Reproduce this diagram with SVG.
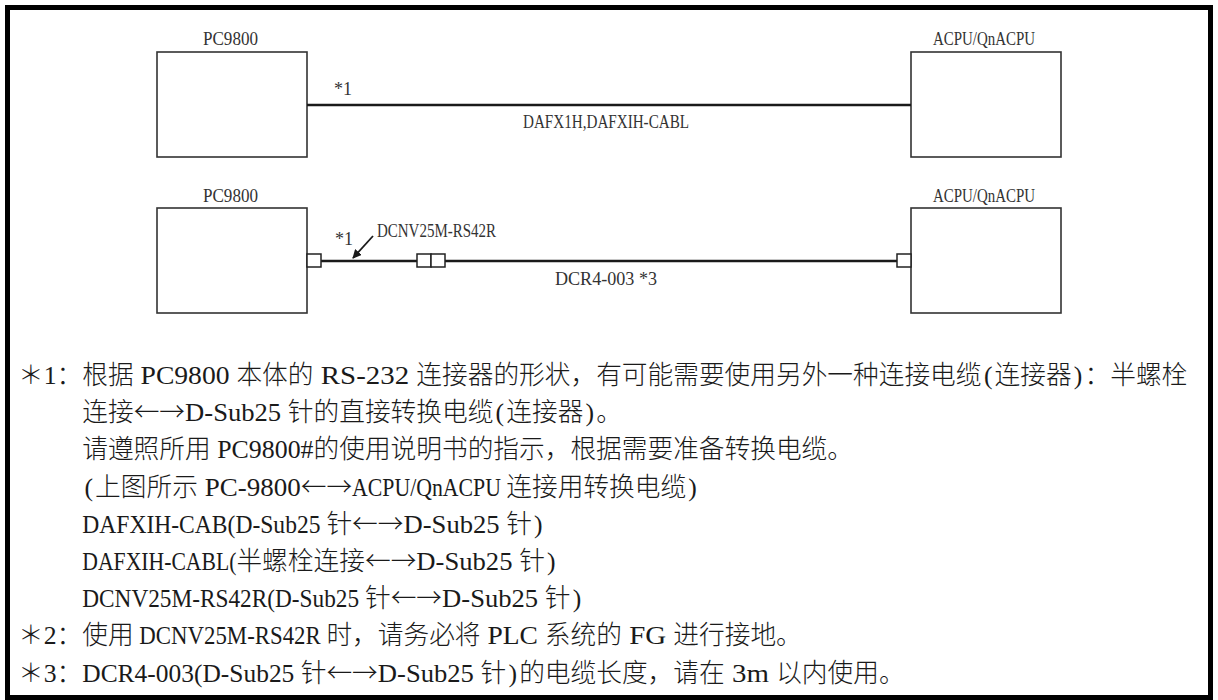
<svg xmlns="http://www.w3.org/2000/svg" width="1218" height="700" viewBox="0 0 1218 700">
<style>
.frame{fill:none;stroke:#000;stroke-width:5}
.box{fill:#fff;stroke:#333;stroke-width:1.6}
.cable{stroke:#1a1a1a;stroke-width:2.6;fill:none}
.conn{fill:#fff;stroke:#222;stroke-width:1.5}
.lbl{font-family:"Liberation Serif",serif;font-size:18px;fill:#333}
.note{font-family:"Liberation Serif","Noto Sans CJK SC",serif;font-size:25.7px;fill:#1a1a1a;font-weight:300}
.cjk{font-family:"Noto Sans CJK SC","Liberation Serif",sans-serif}
</style>
<defs>
<marker id="ah" viewBox="0 0 10 10" refX="9" refY="5" markerWidth="9" markerHeight="9" markerUnits="userSpaceOnUse" orient="auto">
<path d="M0,0 L10,5 L0,10 z" fill="#1a1a1a"/>
</marker>
</defs>
<rect width="1218" height="700" fill="#fff"/>
<rect class="frame" x="7.5" y="7.5" width="1203" height="690"/>

<g id="node-pc9800-1">
<rect class="box" x="157" y="52" width="150" height="105"/>
<text class="lbl" x="203" y="45" textLength="55" lengthAdjust="spacingAndGlyphs">PC9800</text>
</g>
<g id="node-acpu-1">
<rect class="box" x="911" y="52" width="150" height="105"/>
<text class="lbl" x="933" y="45" textLength="102" lengthAdjust="spacingAndGlyphs">ACPU/QnACPU</text>
</g>
<g id="node-pc9800-2">
<rect class="box" x="157" y="208" width="150" height="105"/>
<text class="lbl" x="203" y="202" textLength="55" lengthAdjust="spacingAndGlyphs">PC9800</text>
</g>
<g id="node-acpu-2">
<rect class="box" x="911" y="208" width="150" height="105"/>
<text class="lbl" x="933" y="202" textLength="102" lengthAdjust="spacingAndGlyphs">ACPU/QnACPU</text>
</g>

<g id="connectors">
<line class="cable" x1="307" y1="105" x2="911" y2="105"/>
<line class="cable" x1="321" y1="261" x2="417" y2="261"/>
<line class="cable" x1="445" y1="261" x2="897" y2="261"/>
<rect class="conn" x="307" y="254" width="14" height="13"/>
<rect class="conn" x="417" y="254" width="14" height="13"/>
<rect class="conn" x="431" y="254" width="14" height="13"/>
<rect class="conn" x="897" y="254" width="14" height="13"/>
<line x1="373" y1="236" x2="353" y2="258" stroke="#1a1a1a" stroke-width="1.8" marker-end="url(#ah)"/>
<text class="lbl" x="334" y="95" textLength="18" lengthAdjust="spacingAndGlyphs">*1</text>
<text class="lbl" x="523" y="128" textLength="166" lengthAdjust="spacingAndGlyphs">DAFX1H,DAFXIH-CABL</text>
<text class="lbl" x="335" y="245" textLength="18" lengthAdjust="spacingAndGlyphs">*1</text>
<text class="lbl" x="377" y="237" textLength="119" lengthAdjust="spacingAndGlyphs">DCNV25M-RS42R</text>
<text class="lbl" x="555" y="285" textLength="102" lengthAdjust="spacingAndGlyphs">DCR4-003 *3</text>
</g>

<g id="notes">
<text class="note" y="384"><tspan x="18">＊</tspan><tspan x="43.7">1</tspan><tspan x="56.55">：根据</tspan><tspan x="133.65" textLength="102.8" lengthAdjust="spacingAndGlyphs"> PC9800 </tspan><tspan x="236.45">本体的</tspan><tspan x="313.55" textLength="102.8" lengthAdjust="spacingAndGlyphs"> RS-232 </tspan><tspan x="416.35">连接器的形状，有可能需要使用另外一种连接电缆</tspan><tspan x="983.9">(</tspan><tspan x="994.6">连接器</tspan><tspan x="1073.8">)</tspan><tspan x="1084.55">：半螺栓</tspan></text>

<text class="note" y="421.2"><tspan x="82.25">连接</tspan><tspan class="cjk" x="133.65" textLength="51.4" lengthAdjust="spacingAndGlyphs">←→</tspan><tspan x="185.05" textLength="102.8" lengthAdjust="spacingAndGlyphs">D-Sub25 </tspan><tspan x="287.85">针的直接转换电缆</tspan><tspan x="495.6">(</tspan><tspan x="506.3">连接器</tspan><tspan x="585.5">)</tspan><tspan x="596.25">。</tspan></text>

<text class="note" y="458.4"><tspan x="82.25">请遵照所用</tspan><tspan x="210.75" textLength="102.8" lengthAdjust="spacingAndGlyphs"> PC9800#</tspan><tspan x="313.55">的使用说明书的指示，根据需要准备转换电缆。</tspan></text>

<text class="note" y="495.6"><tspan x="84.4">(</tspan><tspan x="95.1">上图所示</tspan><tspan x="197.9" textLength="102.8" lengthAdjust="spacingAndGlyphs"> PC-9800</tspan><tspan class="cjk" x="300.7" textLength="51.4" lengthAdjust="spacingAndGlyphs">←→</tspan><tspan x="352.1" textLength="154.2" lengthAdjust="spacingAndGlyphs">ACPU/QnACPU </tspan><tspan x="506.3">连接用转换电缆</tspan><tspan x="688.3">)</tspan></text>

<text class="note" y="532.8"><tspan x="82.25" textLength="244.15" lengthAdjust="spacingAndGlyphs">DAFXIH-CAB(D-Sub25 </tspan><tspan x="326.4">针</tspan><tspan class="cjk" x="352.1" textLength="51.4" lengthAdjust="spacingAndGlyphs">←→</tspan><tspan x="403.5" textLength="102.8" lengthAdjust="spacingAndGlyphs">D-Sub25 </tspan><tspan x="506.3">针</tspan><tspan x="534.1">)</tspan></text>

<text class="note" y="570"><tspan x="82.25" textLength="154.2" lengthAdjust="spacingAndGlyphs">DAFXIH-CABL(</tspan><tspan x="236.45">半螺栓连接</tspan><tspan class="cjk" x="364.95" textLength="51.4" lengthAdjust="spacingAndGlyphs">←→</tspan><tspan x="416.35" textLength="102.8" lengthAdjust="spacingAndGlyphs">D-Sub25 </tspan><tspan x="519.15">针</tspan><tspan x="547">)</tspan></text>

<text class="note" y="607.2"><tspan x="82.25" textLength="282.7" lengthAdjust="spacingAndGlyphs">DCNV25M-RS42R(D-Sub25 </tspan><tspan x="364.95">针</tspan><tspan class="cjk" x="390.65" textLength="51.4" lengthAdjust="spacingAndGlyphs">←→</tspan><tspan x="442.05" textLength="102.8" lengthAdjust="spacingAndGlyphs">D-Sub25 </tspan><tspan x="544.85">针</tspan><tspan x="572.7">)</tspan></text>

<text class="note" y="644.4"><tspan x="18">＊</tspan><tspan x="43.7">2</tspan><tspan x="56.55">：使用</tspan><tspan x="133.65" textLength="192.75" lengthAdjust="spacingAndGlyphs"> DCNV25M-RS42R </tspan><tspan x="326.4">时，请务必将</tspan><tspan x="480.6" textLength="64.25" lengthAdjust="spacingAndGlyphs"> PLC </tspan><tspan x="544.85">系统的</tspan><tspan x="621.95" textLength="51.4" lengthAdjust="spacingAndGlyphs"> FG </tspan><tspan x="673.35">进行接地。</tspan></text>

<text class="note" y="681.6"><tspan x="18">＊</tspan><tspan x="43.7">3</tspan><tspan x="56.55">：</tspan><tspan x="82.25" textLength="218.45" lengthAdjust="spacingAndGlyphs">DCR4-003(D-Sub25 </tspan><tspan x="300.7">针</tspan><tspan class="cjk" x="326.4" textLength="51.4" lengthAdjust="spacingAndGlyphs">←→</tspan><tspan x="377.8" textLength="102.8" lengthAdjust="spacingAndGlyphs">D-Sub25 </tspan><tspan x="480.6">针</tspan><tspan x="508.4">)</tspan><tspan x="519.15">的电缆长度，请在</tspan><tspan x="724.75" textLength="51.4" lengthAdjust="spacingAndGlyphs"> 3m </tspan><tspan x="776.15">以内使用。</tspan></text>
</g>
</svg>
